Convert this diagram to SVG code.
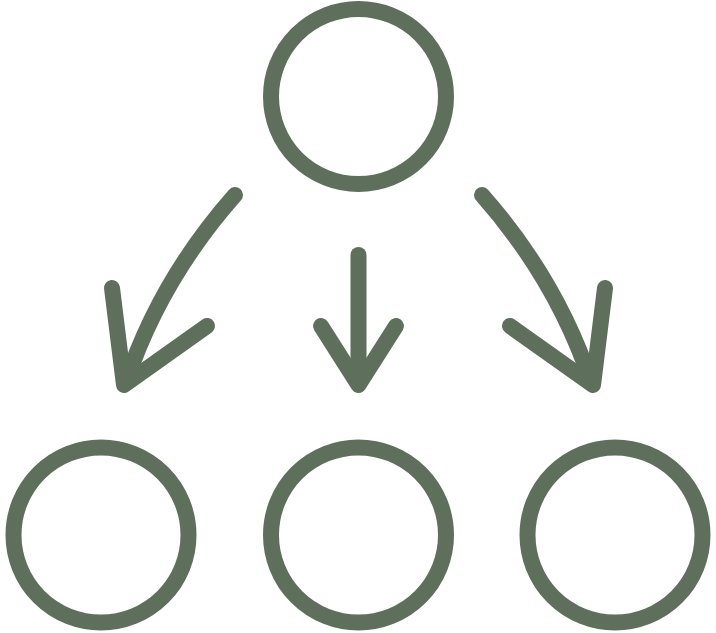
<svg xmlns="http://www.w3.org/2000/svg" width="716" height="633" viewBox="0 0 716 633">
<style>
.s{fill:none;stroke:#5e6f5c;stroke-width:16;stroke-linecap:round;stroke-linejoin:round}
</style>
<rect width="716" height="633" fill="#ffffff"/>
<g id="top"><circle class="s" cx="358.5" cy="96.5" r="87.5"/></g>
<g id="left"><circle class="s" cx="101" cy="535" r="87.5"/></g>
<g id="middle"><circle class="s" cx="358.5" cy="535" r="87.5"/></g>
<g id="right"><circle class="s" cx="615" cy="535" r="87.5"/></g>
<g id="connectors">
<path class="s" d="M235 195 Q160 280 126 382"/>
<path class="s" d="M112 288 L124 385 L207 326"/>
<path class="s" d="M358.5 255 L358.5 382"/>
<path class="s" d="M321 326 L358.5 385 L396 326"/>
<path class="s" d="M482 195 Q557 280 591 382"/>
<path class="s" d="M605 288 L593 385 L510 326"/>
</g>
</svg>
